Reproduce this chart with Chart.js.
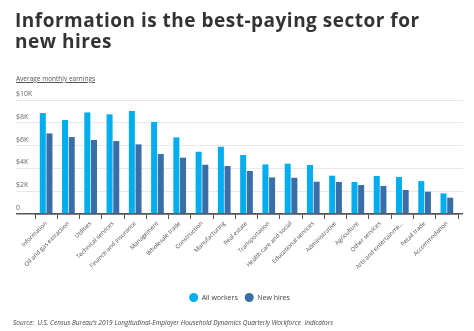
<!DOCTYPE html>
<html>
<head>
<meta charset="utf-8">
<script src="https://cdn.jsdelivr.net/npm/chart.js@4.4.1/dist/chart.umd.min.js"></script>
<style>
  html, body { margin: 0; padding: 0; background: #fff; }
  #wrap { position: relative; width: 474px; height: 331px; overflow: hidden; font-family: "Open Sans", sans-serif; }
  #title { position: absolute; left: 15px; top: 10px; white-space: nowrap; font-size: 19px; font-weight: 700; line-height: 21px; letter-spacing: 0.5px; color: #333; }
  #subtitle { position: absolute; left: 16px; top: 74px; font-size: 6.5px; color: #555; text-decoration: underline; }
  #source { position: absolute; left: 13px; top: 318px; font-size: 6.5px; font-style: italic; color: #444; white-space: pre; }
  #chartBox { position: absolute; left: 0; top: 0; width: 474px; height: 331px; }
</style>
</head>
<body>
<div id="wrap">
  <div id="chartBox"><canvas id="earningsChart"></canvas></div>
  <div id="title">Information is the best-paying sector for<br>new hires</div>
  <div id="subtitle">Average monthly earnings</div>
  <div id="source">Source:  U.S. Census Bureau’s 2019 Longitudinal-Employer Household Dynamics Quarterly Workforce  Indicators</div>
</div>
<script>
const sectors = ['Information', 'Oil and gas extraction', 'Utilities', 'Technical services',
    'Finance and insurance', 'Management', 'Wholesale trade', 'Construction', 'Manufacturing',
    'Real estate', 'Transportation', 'Health care and social', 'Educational services',
    'Administrative', 'Agriculture', 'Other services', 'Arts and entertainme…', 'Retail trade',
    'Accommodation'];
const allWorkers = [8860, 8250, 8910, 8740, 9040, 8070, 6720, 5460, 5900,
    5170, 4350, 4410, 4300, 3360, 2810, 3330, 3250, 2890, 1810];
const newHires = [7070, 6750, 6490, 6400, 6110, 5260, 4940, 4320, 4210,
    3770, 3210, 3180, 2830, 2810, 2540, 2460, 2110, 1960, 1430];
const yTickLabels = ['0', '$2K', '$4K', '$6K', '$8K', '$10K'];

const lightBlue = '#00adef';
const darkBlue = '#3a6ea8';
const gridGray = '#e8e8e8';
const axisGray = '#555';

function gridColor(ctx) {
    return ctx.tick && ctx.tick.value === 0 ? axisGray : gridGray;
}
function gridWidth(ctx) {
    return ctx.tick && ctx.tick.value === 0 ? 1.5 : 1;
}

document.addEventListener('DOMContentLoaded', () => {
    const ctx = document.getElementById('earningsChart').getContext('2d');
    new Chart(ctx, {
        type: 'bar',
        data: {
            labels: sectors,
            datasets: [{
                label: 'All workers',
                data: allWorkers,
                backgroundColor: lightBlue
            }, {
                label: 'New hires',
                data: newHires,
                backgroundColor: darkBlue
            }]
        },
        options: {
            responsive: true,
            maintainAspectRatio: false,
            animation: false,
            categoryPercentage: 0.6,
            barPercentage: 0.9,
            layout: {
                padding: { left: 16, right: 11, top: 100, bottom: 20 }
            },
            scales: {
                x: {
                    afterFit: scale => { scale.height = 73; },
                    grid: { drawOnChartArea: false, color: axisGray, tickLength: 5, lineWidth: 1 },
                    border: { color: axisGray, width: 1.5 },
                    ticks: {
                        minRotation: 45,
                        maxRotation: 45,
                        autoSkip: false,
                        padding: 1,
                        color: '#555',
                        font: { family: 'Open Sans', size: 6 }
                    }
                },
                y: {
                    min: 0,
                    max: 10000,
                    afterFit: scale => { scale.width = 19; },
                    grid: { color: gridColor, lineWidth: gridWidth, tickLength: 19 },
                    border: { display: false },
                    ticks: {
                        stepSize: 2000,
                        crossAlign: 'far',
                        labelOffset: -6,
                        color: '#666',
                        font: { family: 'Open Sans', size: 7 },
                        callback: (value, index) => yTickLabels[index]
                    }
                },
                yRight: {
                    position: 'right',
                    min: 0,
                    max: 10000,
                    afterFit: scale => { scale.width = 5; },
                    grid: { drawOnChartArea: false, color: gridColor, lineWidth: gridWidth, tickLength: 5 },
                    border: { display: false },
                    ticks: { stepSize: 2000, display: false }
                }
            },
            plugins: {
                legend: {
                    position: 'bottom',
                    labels: {
                        usePointStyle: true,
                        pointStyle: 'circle',
                        boxHeight: 6.4,
                        pointStyleWidth: 9,
                        padding: 7,
                        color: '#444',
                        font: { family: 'Open Sans', size: 7 }
                    }
                },
                tooltip: { enabled: false }
            }
        }
    });
});
</script>
</body>
</html>
